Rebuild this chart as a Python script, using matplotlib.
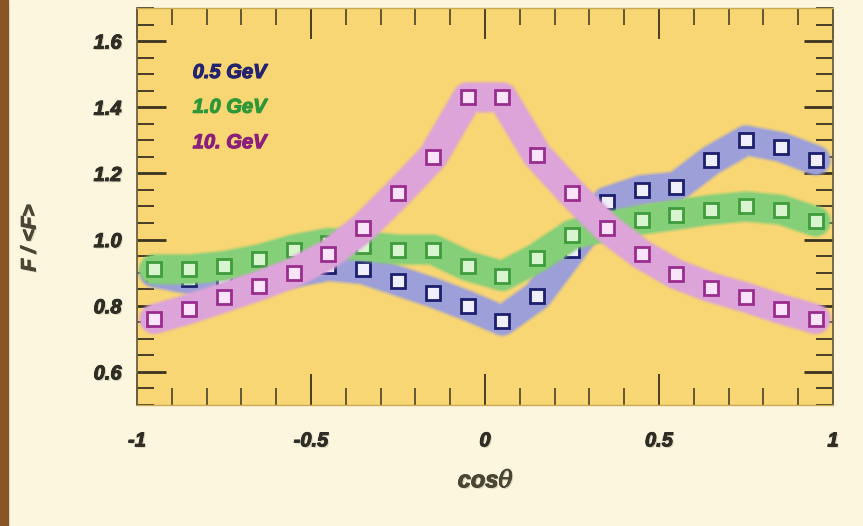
import numpy as np
import matplotlib
matplotlib.use("Agg")
import matplotlib.pyplot as plt
from matplotlib.ticker import MultipleLocator, FixedLocator
import matplotlib.patheffects as pe

# bin centres in cos(theta)
cos_theta = [-0.95, -0.85, -0.75, -0.65, -0.55, -0.45, -0.35, -0.25, -0.15, -0.05,
             0.05, 0.15, 0.25, 0.35, 0.45, 0.55, 0.65, 0.75, 0.85, 0.95]

# F / <F> for each energy
ratio_05 = [0.90, 0.88, 0.88, 0.89, 0.90, 0.92, 0.91, 0.875, 0.84, 0.80,
            0.755, 0.83, 0.97, 1.115, 1.15, 1.16, 1.24, 1.30, 1.28, 1.24]
ratio_10 = [0.91, 0.91, 0.92, 0.94, 0.97, 0.99, 0.98, 0.97, 0.97, 0.92,
            0.89, 0.945, 1.015, 1.04, 1.06, 1.075, 1.09, 1.10, 1.09, 1.055]
ratio_100 = [0.76, 0.79, 0.825, 0.86, 0.90, 0.955, 1.035, 1.14, 1.25, 1.43,
             1.43, 1.255, 1.14, 1.035, 0.955, 0.895, 0.855, 0.825, 0.79, 0.76]

labels = ["0.5 GeV", "1.0 GeV", "10. GeV"]
x_ticklabels = ["-1", "-0.5", "0", "0.5", "1"]
y_ticklabels = ["0.6", "0.8", "1.0", "1.2", "1.4", "1.6"]

# band, marker edge, marker face, text colour
styles = [
    ("#9d9fd8", "#1c1f6e", "#eeeefc", "#23236f"),
    ("#84cf78", "#3f9c3c", "#d9f5cf", "#2e9838"),
    ("#dca4d8", "#9a2c8e", "#fbe3fa", "#8a1f7c"),
]

fig = plt.figure(figsize=(8.63, 5.26), dpi=100)
fig.patch.set_facecolor("#fbf6dd")
# brown strip down the left edge
fig.add_artist(plt.Rectangle((0, 0), 8 / 863, 1, transform=fig.transFigure,
                             color="#8a5526", zorder=0))

ax = fig.add_axes([137 / 863, 1 - 405 / 526, 696 / 863, 397 / 526])
ax.set_facecolor("#f8d673")

font = dict(family=["Liberation Sans", "DejaVu Sans"], weight="bold", style="italic")


def heavy(color):
    return [pe.withSimplePatchShadow(offset=(1, -1), shadow_rgbFace="#b8ad8c", alpha=0.5),
            pe.withStroke(linewidth=0.7, foreground=color)]


series = [ratio_05, ratio_10, ratio_100]
for i, (vals, (band, edge, face, tcol)) in enumerate(zip(series, styles)):
    z = 2 + 2 * i
    # soft-edged band through the points
    for lw, a in [(24, 0.25), (22, 0.45), (20, 1.0)]:
        ax.plot(cos_theta, vals, color=band, lw=lw, alpha=a,
                solid_joinstyle="round", solid_capstyle="round", zorder=z)
    ax.plot(cos_theta, vals, ls="none", marker="s", ms=9.5, mew=2.0,
            mec=edge, mfc=face, zorder=z + 1)

legend_y = [1.505, 1.40, 1.293]
for lab, yy, st in zip(labels, legend_y, styles):
    ax.text(-0.84, yy, lab, color=st[3], fontsize=14.5, va="center", ha="left",
            zorder=10, path_effects=[pe.withStroke(linewidth=0.8, foreground=st[3])],
            **font)

ax.set_xlim(-1, 1)
ax.set_ylim(0.5, 1.7)
ax.xaxis.set_major_locator(FixedLocator([-1, -0.5, 0, 0.5, 1]))
ax.xaxis.set_minor_locator(MultipleLocator(0.1))
ax.yaxis.set_major_locator(FixedLocator([0.6, 0.8, 1.0, 1.2, 1.4, 1.6]))
ax.yaxis.set_minor_locator(MultipleLocator(0.05))
ax.set_xticklabels(x_ticklabels)
ax.set_yticklabels(y_ticklabels)

ax.tick_params(which="both", direction="in", top=True, right=True, color="#3b3322")
ax.tick_params(axis="x", which="major", length=22, width=1.3, pad=19)
ax.tick_params(axis="x", which="minor", length=12, width=1.1)
ax.tick_params(axis="y", which="major", length=21, width=2.0, pad=11)
ax.tick_params(axis="y", which="minor", length=12, width=1.3)

for lab in ax.get_xticklabels() + ax.get_yticklabels():
    lab.set_fontfamily(font["family"])
    lab.set_fontweight("bold")
    lab.set_fontstyle("italic")
    lab.set_fontsize(14.5)
    lab.set_color("#2e2e26")
    lab.set_path_effects(heavy("#2e2e26"))

for side in ["left", "right"]:
    ax.spines[side].set_color("#6d6040")
    ax.spines[side].set_linewidth(1.3)
for side in ["top", "bottom"]:
    ax.spines[side].set_color("#c9aa55")
    ax.spines[side].set_linewidth(1.0)

fig.text(30 / 863, 1 - 238 / 526, "F / <F>", rotation=90, ha="center", va="center",
         fontsize=15, color="#4a4636", path_effects=heavy("#4a4636"), **font)
fig.text(486 / 863, 1 - 481 / 526, r"cos$\theta$", ha="center", va="center",
         fontsize=17, color="#4a4636", path_effects=heavy("#4a4636"),
         math_fontfamily="dejavuserif", **font)

fig.savefig("out.png", dpi=100, facecolor=fig.get_facecolor())
